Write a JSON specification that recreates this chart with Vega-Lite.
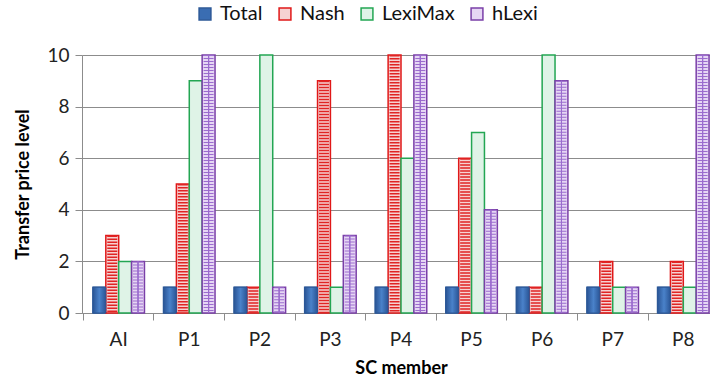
{
  "$schema": "https://vega.github.io/schema/vega-lite/v6.json",
  "width": 638,
  "height": 258,
  "autosize": {"type": "none"},
  "padding": {"left": 82, "top": 55, "right": -10, "bottom": 75},
  "background": "white",
  "config": {
    "font": "Lato",
    "view": {"stroke": null},
    "axis": {
      "labelFont": "Lato",
      "titleFont": "Lato",
      "labelFontSize": 19,
      "titleFontSize": 18,
      "titleFontWeight": "bold",
      "labelColor": "#222222",
      "titleColor": "#000000",
      "domainColor": "#8c8c8c",
      "tickColor": "#8c8c8c",
      "gridColor": "#8c8c8c",
      "domainWidth": 1,
      "tickWidth": 1,
      "tickSize": 7
    },
    "legend": {"labelFont": "Lato", "labelFontSize": 20, "labelColor": "#111111"}
  },
  "data": {
    "values": [
      {"member": "AI", "method": "Total", "value": 1},
      {"member": "AI", "method": "Nash", "value": 3},
      {"member": "AI", "method": "LexiMax", "value": 2},
      {"member": "AI", "method": "hLexi", "value": 2},
      {"member": "P1", "method": "Total", "value": 1},
      {"member": "P1", "method": "Nash", "value": 5},
      {"member": "P1", "method": "LexiMax", "value": 9},
      {"member": "P1", "method": "hLexi", "value": 10},
      {"member": "P2", "method": "Total", "value": 1},
      {"member": "P2", "method": "Nash", "value": 1},
      {"member": "P2", "method": "LexiMax", "value": 10},
      {"member": "P2", "method": "hLexi", "value": 1},
      {"member": "P3", "method": "Total", "value": 1},
      {"member": "P3", "method": "Nash", "value": 9},
      {"member": "P3", "method": "LexiMax", "value": 1},
      {"member": "P3", "method": "hLexi", "value": 3},
      {"member": "P4", "method": "Total", "value": 1},
      {"member": "P4", "method": "Nash", "value": 10},
      {"member": "P4", "method": "LexiMax", "value": 6},
      {"member": "P4", "method": "hLexi", "value": 10},
      {"member": "P5", "method": "Total", "value": 1},
      {"member": "P5", "method": "Nash", "value": 6},
      {"member": "P5", "method": "LexiMax", "value": 7},
      {"member": "P5", "method": "hLexi", "value": 4},
      {"member": "P6", "method": "Total", "value": 1},
      {"member": "P6", "method": "Nash", "value": 1},
      {"member": "P6", "method": "LexiMax", "value": 10},
      {"member": "P6", "method": "hLexi", "value": 9},
      {"member": "P7", "method": "Total", "value": 1},
      {"member": "P7", "method": "Nash", "value": 2},
      {"member": "P7", "method": "LexiMax", "value": 1},
      {"member": "P7", "method": "hLexi", "value": 1},
      {"member": "P8", "method": "Total", "value": 1},
      {"member": "P8", "method": "Nash", "value": 2},
      {"member": "P8", "method": "LexiMax", "value": 1},
      {"member": "P8", "method": "hLexi", "value": 10}
    ]
  },
  "encoding": {
    "x": {
      "field": "member",
      "type": "nominal",
      "sort": ["AI", "P1", "P2", "P3", "P4", "P5", "P6", "P7", "P8"],
      "scale": {"paddingInner": 0.27, "paddingOuter": 0.155},
      "axis": {
        "title": "SC member",
        "labelAngle": 0,
        "labelPadding": 10,
        "titlePadding": 10,
        "bandPosition": -0.185,
        "grid": false
      }
    },
    "xOffset": {
      "field": "method",
      "sort": ["Total", "Nash", "LexiMax", "hLexi"]
    },
    "y": {
      "field": "value",
      "type": "quantitative",
      "scale": {"domain": [0, 10], "nice": false},
      "axis": {
        "title": "Transfer price level",
        "values": [0, 2, 4, 6, 8, 10],
        "grid": true,
        "labelPadding": 6,
        "titlePadding": 14
      }
    }
  },
  "layer": [
    {
      "mark": {"type": "bar", "strokeWidth": 1.5},
      "encoding": {
        "fill": {
          "field": "method",
          "type": "nominal",
          "sort": ["Total", "Nash", "LexiMax", "hLexi"],
          "scale": {
            "domain": ["Total", "Nash", "LexiMax", "hLexi"],
            "range": ["#3a6db2", "#f6d2d2", "#dff3e7", "#e6d6f4"]
          },
          "legend": {
            "title": null,
            "orient": "none",
            "direction": "horizontal",
            "columns": 4,
            "legendX": 113,
            "legendY": -51,
            "symbolType": "square",
            "symbolSize": 140,
            "symbolStrokeWidth": 1.5,
            "labelOffset": 5,
            "columnPadding": 12
          }
        },
        "stroke": {
          "field": "method",
          "type": "nominal",
          "sort": ["Total", "Nash", "LexiMax", "hLexi"],
          "scale": {
            "domain": ["Total", "Nash", "LexiMax", "hLexi"],
            "range": ["#2c5897", "#e01818", "#23a653", "#7a3fa8"]
          },
          "legend": {
            "title": null,
            "orient": "none",
            "direction": "horizontal",
            "columns": 4,
            "legendX": 113,
            "legendY": -51,
            "symbolType": "square",
            "symbolSize": 140,
            "symbolStrokeWidth": 1.5,
            "labelOffset": 5,
            "columnPadding": 12
          }
        }
      }
    },
    {
      "transform": [{"filter": "datum.method === 'Total'"}],
      "mark": {
        "type": "bar",
        "strokeWidth": 1,
        "stroke": "#2c5897",
        "fill": {
          "gradient": "linear",
          "x1": 0, "y1": 0, "x2": 1, "y2": 0,
          "stops": [
            {"offset": 0, "color": "#2a5596"},
            {"offset": 0.5, "color": "#4a82ca"},
            {"offset": 1, "color": "#2a5596"}
          ]
        }
      }
    },
    {
      "transform": [{"filter": "datum.method === 'Nash'"}],
      "mark": {"type": "rule", "strokeWidth": 10, "strokeDash": [1.5, 1.5], "color": "#e02424"},
      "encoding": {"y2": {"datum": 0}}
    },
    {
      "transform": [{"filter": "datum.method === 'hLexi'"}],
      "mark": {"type": "rule", "strokeWidth": 10, "strokeDash": [1, 2], "color": "#9b6cce"},
      "encoding": {"y2": {"datum": 0}}
    },
    {
      "transform": [{"filter": "datum.method === 'hLexi'"}],
      "mark": {"type": "rule", "strokeWidth": 1, "color": "#9b6cce"},
      "encoding": {
        "xOffset": {"field": "method", "sort": ["Total", "Nash", "LexiMax", "hLexi"], "bandPosition": 0.27},
        "y2": {"datum": 0}
      }
    },
    {
      "transform": [{"filter": "datum.method === 'hLexi'"}],
      "mark": {"type": "rule", "strokeWidth": 1, "color": "#9b6cce"},
      "encoding": {
        "xOffset": {"field": "method", "sort": ["Total", "Nash", "LexiMax", "hLexi"], "bandPosition": 0.5},
        "y2": {"datum": 0}
      }
    },
    {
      "transform": [{"filter": "datum.method === 'hLexi'"}],
      "mark": {"type": "rule", "strokeWidth": 1, "color": "#9b6cce"},
      "encoding": {
        "xOffset": {"field": "method", "sort": ["Total", "Nash", "LexiMax", "hLexi"], "bandPosition": 0.73},
        "y2": {"datum": 0}
      }
    }
  ]
}
